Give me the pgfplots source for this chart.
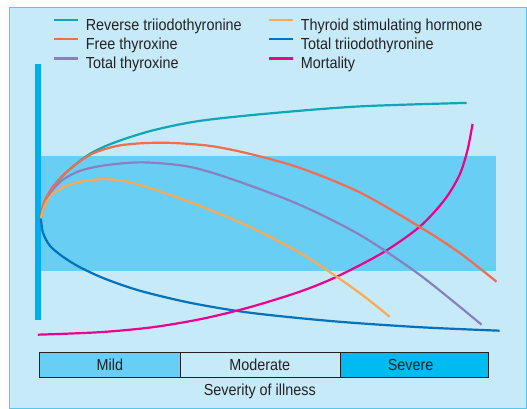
\documentclass[border=0pt]{standalone}
\usepackage{pgfplots}
\pgfplotsset{compat=1.18}
\usepackage{fontspec}
\setmainfont{Liberation Sans}[FakeStretch=0.9]
\definecolor{panelbg}{RGB}{199,234,249}
\definecolor{panelborder}{RGB}{90,198,240}
\definecolor{band}{RGB}{105,206,244}
\definecolor{leftbar}{RGB}{0,174,239}
\definecolor{severe}{RGB}{0,187,240}
\definecolor{txt}{RGB}{35,33,35}
\definecolor{cteal}{RGB}{16,166,184}
\definecolor{cred}{RGB}{242,108,79}
\definecolor{cpurple}{RGB}{137,128,192}
\definecolor{corange}{RGB}{250,170,82}
\definecolor{cblue}{RGB}{0,114,188}
\definecolor{cmag}{RGB}{236,0,140}
\begin{document}
\begin{tikzpicture}
\begin{axis}[
  scale only axis, width=527pt, height=409pt,
  xmin=0, xmax=527, ymin=0, ymax=409, y dir=reverse,
  hide axis, clip=false,
  legend columns=2,
  legend cell align=left,
  legend style={at={(axis cs:53,19)}, anchor=north west, draw=none, fill=none, inner sep=0pt,
    font=\fontsize{16}{19}\selectfont, text=txt,
    nodes={inner sep=0pt, text height=11pt, text depth=4pt},
    column sep=0pt, row sep=3.5pt},
  legend image code/.code={\draw[#1, line width=2.2pt] (0pt,7pt) -- (24pt,7pt); \path (30.5pt,7pt);},
  every axis plot/.append style={line width=2.2pt, line cap=butt},
]
% page background
\addplot[draw=none, fill=white, forget plot] coordinates {(0,0)(527,0)(527,409)(0,409)} -- cycle;
% panel
\addplot[draw=panelborder, fill=panelbg, line width=1pt, forget plot] coordinates {(9.5,7.5)(527,7.5)(527,408.5)(9.5,408.5)} -- cycle;
% normal range band
\addplot[draw=none, fill=band, forget plot] coordinates {(41,155.7)(496,155.7)(496,271.7)(41,271.7)} -- cycle;
% left bar
\addplot[draw=none, fill=leftbar, forget plot] coordinates {(35,64)(41,64)(41,320)(35,320)} -- cycle;

% legend
\addlegendimage{cteal}
\addlegendentry{\makebox[182.5pt][l]{Reverse triiodothyronine}}
\addlegendimage{corange}
\addlegendentry{Thyroid stimulating hormone}
\addlegendimage{cred}
\addlegendentry{\makebox[182.5pt][l]{Free thyroxine}}
\addlegendimage{cblue}
\addlegendentry{Total triiodothyronine}
\addlegendimage{cpurple}
\addlegendentry{\makebox[182.5pt][l]{Total thyroxine}}
\addlegendimage{cmag}
\addlegendentry{Mortality}

% curves
\addplot[cblue, smooth, forget plot] coordinates {(41,219)(43,233)(50,246)(63,257)(80,267.5)(105,279)(140,291)(190,303)(250,313)(333,321.5)(420,327.5)(500,331)};
\addplot[cmag, smooth, forget plot] coordinates {(38,335)(100,332.5)(153,327.5)(203,319)(250,307.5)(300,292)(337,277)(383,253)(420,227)(445,200)(460,175)(468,150)(473,124)};
\addplot[cteal, smooth, forget plot] coordinates {(41,218)(44,203)(53,187)(68,171)(90,154)(115,142.5)(153,130.5)(200,121)(270,113.5)(360,106.5)(467,103)};
\addplot[cpurple, smooth, forget plot] coordinates {(41,218)(45,203.5)(51,192)(62,180.5)(80,171)(105,165.5)(143,162.5)(190,167)(237,181)(300,205)(360,235)(420,275)(482,325)};
\addplot[cred, smooth, forget plot] coordinates {(41,218)(44,203)(53,187)(68,171)(90,155)(115,146.5)(140,143.5)(170,143)(210,146)(250,154)(300,168)(360,192.5)(420,227)(460,253)(497,282)};
\addplot[corange, smooth, forget plot] coordinates {(41,218)(45,205)(52,195)(65,186.5)(85,181)(107,179.3)(130,182.5)(160,191.5)(200,206)(250,227)(300,253)(337,277)(365,297)(390,317)};

% severity bar
\addplot[draw=txt, fill=band, line width=1.2pt, forget plot] coordinates {(39.5,352.5)(181,352.5)(181,377.5)(39.5,377.5)} -- cycle;
\addplot[draw=txt, fill=panelbg, line width=1.2pt, forget plot] coordinates {(181,352.5)(340.5,352.5)(340.5,377.5)(181,377.5)} -- cycle;
\addplot[draw=txt, fill=severe, line width=1.2pt, forget plot] coordinates {(340.5,352.5)(489,352.5)(489,377.5)(340.5,377.5)} -- cycle;
\node[text=txt, font=\fontsize{16}{19}\selectfont] at (axis cs:110,365.3) {Mild};
\node[text=txt, font=\fontsize{16}{19}\selectfont] at (axis cs:260,365.3) {Moderate};
\node[text=txt, font=\fontsize{16}{19}\selectfont] at (axis cs:411,365.3) {Severe};
\node[text=txt, font=\fontsize{16}{19}\selectfont] at (axis cs:260,391.5) {Severity of illness};
\end{axis}
\end{tikzpicture}
\end{document}
